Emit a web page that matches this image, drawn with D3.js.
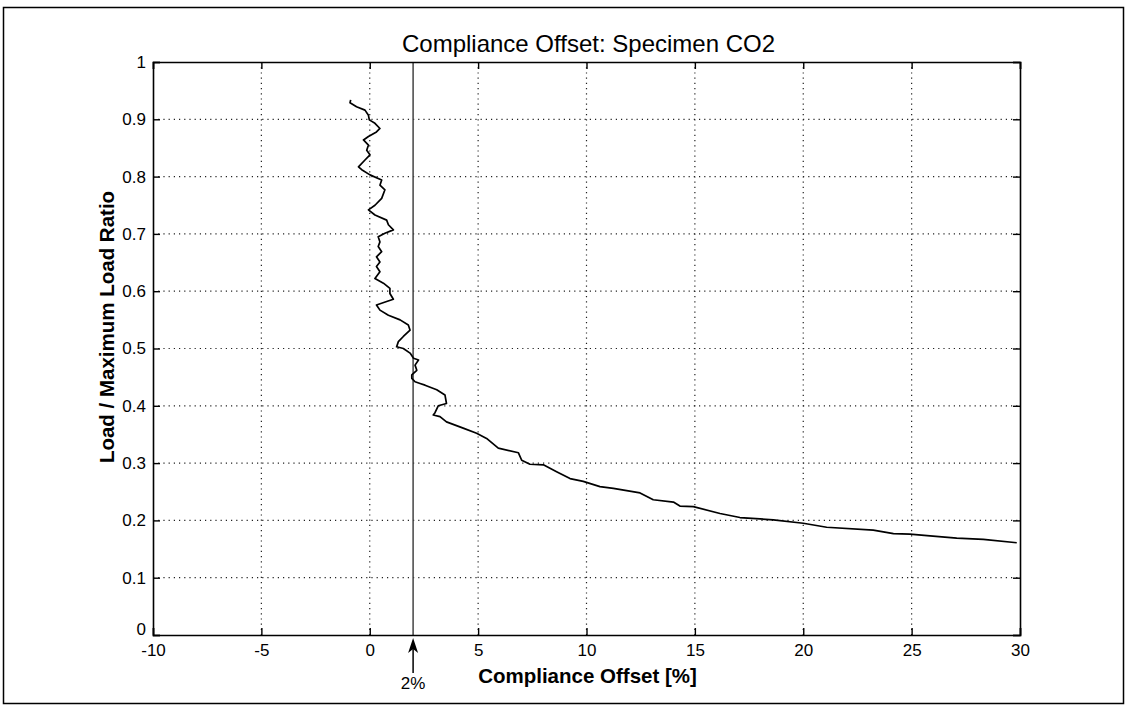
<!DOCTYPE html>
<html>
<head>
<meta charset="utf-8">
<script src="https://cdn.jsdelivr.net/npm/d3@7"></script>
<style>
     html, body { margin: 0; padding: 0; background: #fff; }
     svg { display: block; }
     text { font-family: 'Liberation Sans', Arial, Helvetica, sans-serif; fill: #000; }
</style>
</head>
<body>
<div id="chart"></div>
<script>
// Compliance offset [%] vs load ratio
const offsetPct = [
     -0.88, -0.91, -0.61, -0.22, -0.06, -0.02, 0.24, 0.47, 0.31, -0.06,
     -0.29, -0.06, -0.14, 0.01, -0.22, -0.52, -0.37, 0.01, 0.55, 0.47,
     0.70, 0.55, 0.24, -0.06, 0.24, 0.78, 0.86, 1.09, 0.70, 0.39,
     0.47, 0.39, 0.55, 0.31, 0.47, 0.31, 0.47, 0.24, 0.63, 0.93,
     0.93, 1.09, 0.78, 0.31, 0.47, 0.86, 1.40, 1.78, 1.86, 1.55,
     1.32, 1.24, 1.55, 1.86, 2.02, 2.25, 2.09, 2.17, 1.94, 1.94,
     2.09, 2.32, 2.55, 3.09, 3.47, 3.54, 3.16, 3.01, 2.93, 3.24,
     3.54, 4.31, 4.93, 5.39, 5.93, 6.86, 7.01, 7.39, 8.01, 8.62,
     9.24, 9.85, 10.62, 11.24, 12.47, 13.08, 14.01, 14.31, 14.93, 16.16,
     17.08, 18.62, 20.0, 21.08, 23.23, 24.16, 24.92, 25.85, 27.08, 28.31,
     29.85
];
const loadRatio = [
     0.934, 0.929, 0.922, 0.916, 0.907, 0.899, 0.893, 0.884, 0.878, 0.870,
     0.864, 0.855, 0.846, 0.838, 0.829, 0.817, 0.812, 0.803, 0.794, 0.785,
     0.777, 0.762, 0.750, 0.742, 0.733, 0.724, 0.716, 0.707, 0.701, 0.695,
     0.686, 0.678, 0.669, 0.660, 0.651, 0.643, 0.634, 0.622, 0.614, 0.605,
     0.596, 0.586, 0.582, 0.576, 0.567, 0.558, 0.550, 0.541, 0.532, 0.521,
     0.512, 0.503, 0.500, 0.492, 0.483, 0.480, 0.471, 0.462, 0.454, 0.448,
     0.442, 0.439, 0.436, 0.428, 0.419, 0.404, 0.400, 0.388, 0.384, 0.381,
     0.372, 0.361, 0.352, 0.343, 0.326, 0.318, 0.305, 0.298, 0.297, 0.285,
     0.273, 0.268, 0.259, 0.256, 0.248, 0.236, 0.232, 0.225, 0.224, 0.212,
     0.205, 0.201, 0.195, 0.188, 0.183, 0.177, 0.176, 0.173, 0.169, 0.167,
     0.161
];
const xTicks = [-10, -5, 0, 5, 10, 15, 20, 25, 30];
const yTicks = [0, 0.1, 0.2, 0.3, 0.4, 0.5, 0.6, 0.7, 0.8, 0.9, 1];
const markerX = 2;   // 2% offset line

const W = 1127, H = 710;
const M = { left: 153, right: 1020, top: 62, bottom: 635 };

const x = d3.scaleLinear().domain([-10, 30]).range([M.left, M.right]);
const y = d3.scaleLinear().domain([0, 1]).range([M.bottom, M.top]);

const svg = d3.select('#chart').append('svg')
     .attr('width', W).attr('height', H);

// figure frame
svg.append('rect')
     .attr('x', 3.5).attr('y', 7.5)
     .attr('width', 1120).attr('height', 696)
     .attr('fill', 'none').attr('stroke', '#000').attr('stroke-width', 1.5);

// grid
const grid = svg.append('g')
     .attr('stroke', '#222').attr('stroke-width', 1.2)
     .attr('stroke-dasharray', '1.2,4');
grid.selectAll('line.gx')
     .data(xTicks.slice(1, -1))
     .join('line')
     .attr('class', 'gx')
     .attr('x1', d => x(d)).attr('x2', d => x(d))
     .attr('y1', M.top).attr('y2', M.bottom);
grid.selectAll('line.gy')
     .data(yTicks.slice(1, -1))
     .join('line')
     .attr('class', 'gy')
     .attr('x1', M.left).attr('x2', M.right)
     .attr('y1', d => y(d)).attr('y2', d => y(d));

// 2% reference line
svg.append('line')
     .attr('x1', x(markerX)).attr('x2', x(markerX))
     .attr('y1', M.top).attr('y2', M.bottom)
     .attr('stroke', '#444').attr('stroke-width', 1.5);

// data curve
const line = d3.line()
     .x((d, i) => x(offsetPct[i]))
     .y(d => y(d));
svg.append('path')
     .datum(loadRatio)
     .attr('d', line)
     .attr('fill', 'none')
     .attr('stroke', '#000')
     .attr('stroke-width', 1.7)
     .attr('stroke-linejoin', 'round');

// axes: inward ticks on all four sides, labels bottom/left
const tickLen = 7;
const fmt = d => String(d);
svg.append('g')
     .attr('transform', `translate(0,${M.bottom})`)
     .call(d3.axisBottom(x).tickValues(xTicks).tickSize(-tickLen).tickPadding(9).tickFormat(fmt));
svg.append('g')
     .attr('transform', `translate(0,${M.top})`)
     .call(d3.axisTop(x).tickValues(xTicks).tickSize(-tickLen).tickFormat(''));
const yAxisG = svg.append('g')
     .attr('transform', `translate(${M.left},0)`)
     .call(d3.axisLeft(y).tickValues(yTicks).tickSize(-tickLen).tickPadding(7).tickFormat(fmt));
svg.append('g')
     .attr('transform', `translate(${M.right},0)`)
     .call(d3.axisRight(y).tickValues(yTicks).tickSize(-tickLen).tickFormat(''));

svg.selectAll('.domain').attr('stroke', '#000').attr('stroke-width', 1.6);
svg.selectAll('.tick line').attr('stroke', '#000').attr('stroke-width', 1.4);
svg.selectAll('.tick text').attr('font-size', '17px')
     .attr('font-family', "'Liberation Sans', Arial, sans-serif").attr('fill', '#000');
// the y "0" sits just above the x "-10" in the corner
yAxisG.selectAll('.tick text').filter(d => d === 0).attr('dy', '-0.05em');

// title and axis labels
svg.append('text')
     .attr('x', (M.left + M.right) / 2 + 2).attr('y', 52)
     .attr('text-anchor', 'middle').attr('font-size', '24px')
     .text('Compliance Offset: Specimen CO2');
svg.append('text')
     .attr('x', (M.left + M.right) / 2 + 1).attr('y', 683)
     .attr('text-anchor', 'middle').attr('font-size', '20.5px')
     .attr('font-weight', 'bold')
     .text('Compliance Offset [%]');
svg.append('text')
     .attr('transform', `translate(114,327) rotate(-90)`)
     .attr('text-anchor', 'middle').attr('font-size', '20.5px')
     .attr('font-weight', 'bold')
     .text('Load / Maximum Load Ratio');

// arrow pointing at the 2% line
const ax = x(markerX);
svg.append('line')
     .attr('x1', ax).attr('x2', ax)
     .attr('y1', M.bottom + 14).attr('y2', M.bottom + 38)
     .attr('stroke', '#000').attr('stroke-width', 1.5);
svg.append('path')
     .attr('d', `M${ax},${M.bottom + 3} L${ax - 5},${M.bottom + 18} L${ax},${M.bottom + 14} L${ax + 5},${M.bottom + 18} Z`)
     .attr('fill', '#000');
svg.append('text')
     .attr('x', ax).attr('y', 689)
     .attr('text-anchor', 'middle').attr('font-size', '17px')
     .text('2%');
</script>
</body>
</html>
